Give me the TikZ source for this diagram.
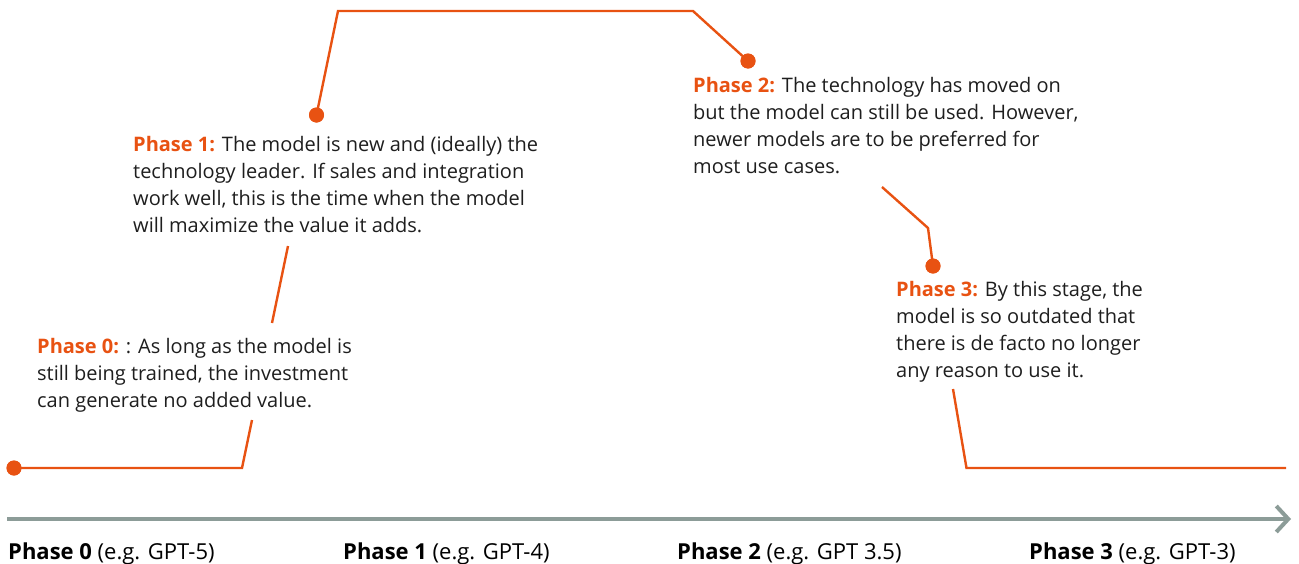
\documentclass[tikz,border=0pt]{standalone}
\usepackage{fontspec}
\setmainfont{Open Sans}
\usetikzlibrary{arrows.meta}
\definecolor{phaseorange}{RGB}{232,82,18}
\definecolor{axisgray}{RGB}{140,156,152}
\definecolor{bodyink}{RGB}{30,30,30}
\tikzset{
  lifeline/.style={draw=phaseorange, line width=2.4pt, line join=miter},
  phasedot/.style={circle, fill=phaseorange, inner sep=0pt, minimum size=15pt},
  phasetext/.style={anchor=base west, inner sep=0pt, text=bodyink,
    font=\fontsize{20}{27.2}\selectfont},
  axislabel/.style={anchor=base west, inner sep=0pt, text=black,
    font=\fontsize{22}{26}\selectfont},
  timeaxis/.style={draw=axisgray, line width=4pt,
    -{Straight Barb[length=12pt, width=26pt, line width=4pt]}}
}
\newcommand{\phasehead}[1]{\textcolor{phaseorange}{\textbf{#1}}}
% top-aligned block whose baseline is that of its first line
\newcommand{\textblock}[1]{\parbox[t]{480pt}{\raggedright #1}}
\begin{document}
\begin{tikzpicture}[x=1pt, y=-1pt]
  \useasboundingbox (0,0) rectangle (1299,563);

  % explanatory text blocks
  \node[phasetext] (t0) at (37,353) {\textblock{%
     \phasehead{Phase 0:} : As long as the model is\\
     still being trained, the investment\\
     can generate no added value.}};
  \node[phasetext] (t1) at (133,151) {\textblock{%
     \phasehead{Phase 1:} The model is new and (ideally) the\\
     technology leader. If sales and integration\\
     work well, this is the time when the model\\
     will maximize the value it adds.}};
  \node[phasetext] (t2) at (693,92) {\textblock{%
     \phasehead{Phase 2:} The technology has moved on\\
     but the model can still be used. However,\\
     newer models are to be preferred for\\
     most use cases.}};
  \node[phasetext] (t3) at (896,296) {\textblock{%
     \phasehead{Phase 3:} By this stage, the\\
     model is so outdated that\\
     there is de facto no longer\\
     any reason to use it.}};

  % value curve: corners and the points where it meets the text
  \node[phasedot] (d0) at (14,468) {};
  \node[phasedot] (d1) at (316.5,115) {};
  \node[phasedot] (d2) at (748,61) {};
  \node[phasedot] (d3) at (933,266) {};
  \coordinate (c0) at (242,468);
  \coordinate (g0) at (252,420);
  \coordinate (g1) at (272,323);
  \coordinate (g2) at (288,246);
  \coordinate (c1) at (338,11);
  \coordinate (c2) at (693,11);
  \coordinate (g3) at (882,187);
  \coordinate (c3) at (928,228);
  \coordinate (g4) at (953,389);
  \coordinate (c4) at (966.5,468);
  \coordinate (e0) at (1286,468);

  \draw[lifeline] (d0.center) -- (c0) -- (g0);
  \draw[lifeline] (g1) -- (g2);
  \draw[lifeline] (d1.center) -- (c1) -- (c2) -- (d2.center);
  \draw[lifeline] (g3) -- (c3) -- (d3.center);
  \draw[lifeline] (g4) -- (c4) -- (e0);
  \foreach \d in {d0,d1,d2,d3} \node[phasedot] at (\d) {};

  % time axis
  \coordinate (a0) at (7,519);
  \coordinate (a1) at (1291,519);
  \draw[timeaxis] (a0) -- (a1);

  \node[axislabel] (l0) at (8,559) {\textbf{Phase 0} (e.g. GPT-5)};
  \node[axislabel] (l1) at (343,559) {\textbf{Phase 1} (e.g. GPT-4)};
  \node[axislabel] (l2) at (677,559) {\textbf{Phase 2} (e.g. GPT 3.5)};
  \node[axislabel] (l3) at (1029,559) {\textbf{Phase 3} (e.g. GPT-3)};
\end{tikzpicture}
\end{document}
